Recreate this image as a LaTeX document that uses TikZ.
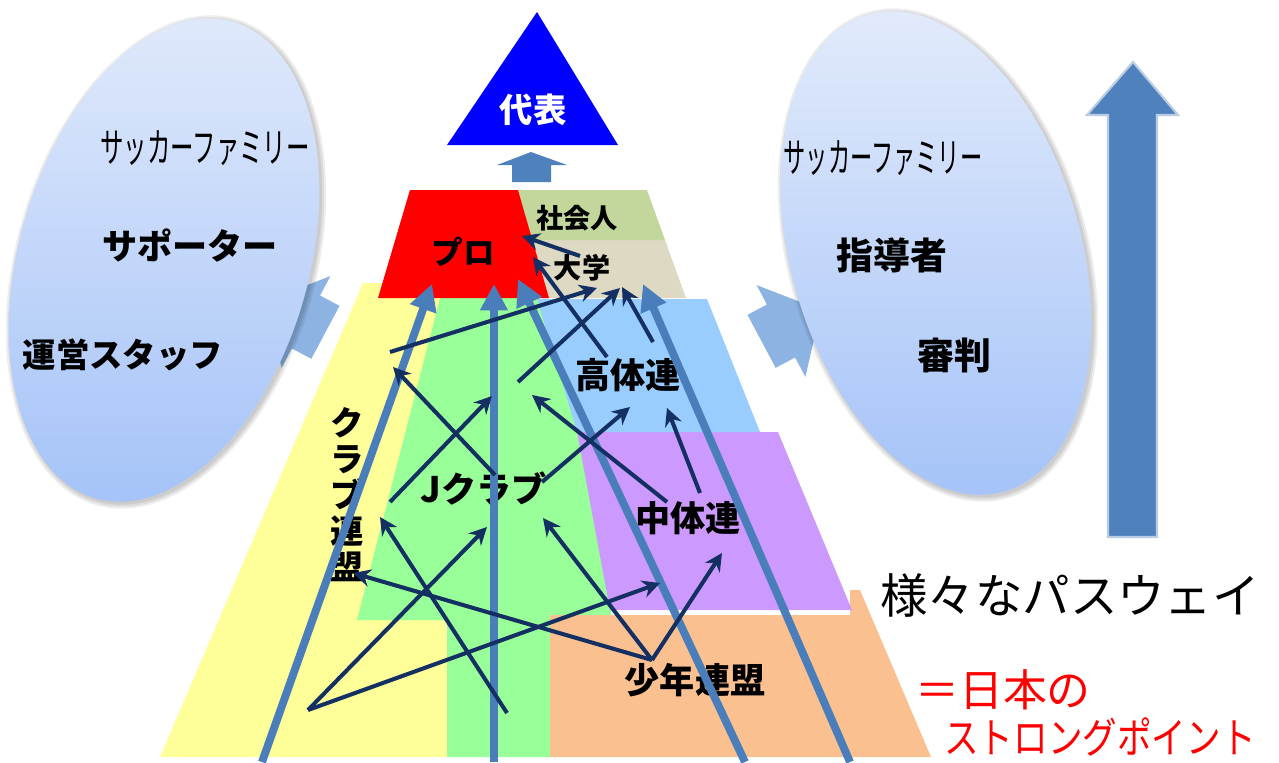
\documentclass[tikz,border=0pt]{standalone}
\usepackage{fontspec}
\newfontfamily\jp{Noto Sans CJK JP}
\usetikzlibrary{arrows.meta}
\definecolor{navy}{HTML}{142F62}
\definecolor{steel}{HTML}{4A7EBB}
\definecolor{ylw}{HTML}{FFFF99}
\definecolor{grn}{HTML}{99FF99}
\definecolor{org}{HTML}{FAC090}
\definecolor{pur}{HTML}{CC99FF}
\definecolor{lblue}{HTML}{99CCFF}
\definecolor{khaki}{HTML}{C3D69B}
\definecolor{beige}{HTML}{DDD9C3}
\definecolor{sidearr}{HTML}{8DB3E2}
\definecolor{ellTop}{HTML}{E1EAFB}
\definecolor{ellBot}{HTML}{A3C2F8}
\definecolor{bigarr}{HTML}{4F81BD}
\definecolor{bigarrb}{HTML}{B8CCE4}
\definecolor{topblue}{HTML}{0000FF}
\begin{document}
\begin{tikzpicture}[x=0.02cm,y=-0.02cm,
  lab/.style={font=\jp\bfseries, inner sep=0pt, text=black},
  thinlab/.style={font=\jp, inner sep=0pt, text=black},
  pathline/.style={draw=steel, line width=4.5pt, -{Triangle[length=15pt,width=15pt]}},
  flow/.style={draw=navy, line width=2.3pt, -{Stealth[length=10pt,width=10pt]}},
  sidearrow/.style={fill=sidearr},
  ell/.style={top color=ellTop, bottom color=ellBot},
  ellshadow/.style={fill=black, opacity=0.07}]
\useasboundingbox (0,0) rectangle (1279,762);

% side arrows (behind the ellipses)
\fill[sidearrow, shift={(306,322)}, rotate=152] (-22,-30) -- (0,-30) -- (0,-52) -- (45,0) -- (0,52) -- (0,30) -- (-22,30) -- cycle;
\fill[sidearrow, shift={(781,331)}, rotate=28] (-22,-30) -- (0,-30) -- (0,-52) -- (45,0) -- (0,52) -- (0,30) -- (-22,30) -- cycle;

% ellipses with soft shadows
\foreach \r in {150,148,146}{
  \fill[ellshadow, shift={(166,262)}, rotate=-16] (0,0) ellipse [x radius=\r, y radius=\r+103];
  \fill[ellshadow, shift={(938,255)}, rotate=16] (0,0) ellipse [x radius=\r, y radius=\r+103];
}
\shade[ell, shift={(164,260)}, rotate=-16] (0,0) ellipse [x radius=145, y radius=248];
\shade[ell, shift={(936,253)}, rotate=16] (0,0) ellipse [x radius=145, y radius=248];

% pyramid regions
\fill[ylw] (363,283) -- (446,283) -- (447,757) -- (160,757) -- cycle;
\fill[grn] (440,298) -- (540,298) -- (580,432) -- (612,618) -- (550,618) -- (550,757) -- (447,757) -- (447,620) -- (357,620) -- cycle;
\fill[org] (550,615) -- (850,615) -- (850,590) -- (860,590) -- (931,757) -- (550,757) -- cycle;
\fill[pur] (577,432) -- (778,432) -- (852,610) -- (610,610) -- cycle;
\fill[lblue] (537,299) -- (707,299) -- (760,432) -- (577,432) -- cycle;
\fill[beige] (532,240) -- (665,240) -- (686,298) -- (549,298) -- cycle;
\fill[khaki] (518,190) -- (647,190) -- (665,240) -- (532,240) -- cycle;
\fill[red] (410,190) -- (518,190) -- (549,298) -- (378,298) -- cycle;

% top triangle and small block arrow
\fill[topblue] (537,12) -- (618,145) -- (447,145) -- cycle;
\fill[bigarr] (512,182) -- (512,165) -- (497,165) -- (531,152) -- (567,165) -- (551,165) -- (551,182) -- cycle;

% big right arrow
\filldraw[fill=bigarr, draw=bigarrb, line width=1.2pt] (1108,537) -- (1108,115) -- (1087,115) -- (1133,62) -- (1178,115) -- (1157,115) -- (1157,537) -- cycle;

% labels
\node[lab, text=white, font=\jp\bfseries\fontsize{19pt}{19pt}\selectfont] (daihyo) at (533,110) {代表};
\node[lab, font=\jp\bfseries\fontsize{18pt}{18pt}\selectfont] (pro) at (463,252) {プロ};
\node[lab, font=\jp\bfseries\fontsize{15.5pt}{16pt}\selectfont] (shakai) at (577,218) {社会人};
\node[lab, font=\jp\bfseries\fontsize{16pt}{16pt}\selectfont] (daigaku) at (582,268) {大学};
\node[lab, font=\jp\bfseries\fontsize{20pt}{20pt}\selectfont] (kotai) at (628,375) {高体連};
\node[lab, font=\jp\bfseries\fontsize{20pt}{20pt}\selectfont] (chutai) at (688,518) {中体連};
\node[lab, font=\jp\bfseries\fontsize{20pt}{20pt}\selectfont] (shonen) at (695,680) {少年連盟};
\node[lab, font=\jp\bfseries\fontsize{20pt}{20pt}\selectfont] (jclub) at (484,488) {Jクラブ};
\node[lab, align=center, font=\jp\bfseries\fontsize{19pt}{20.5pt}\selectfont] (clubrenmei) at (347,495) {ク\\ラ\\ブ\\連\\盟};

\node[thinlab, xscale=0.58, font=\jp\fontsize{23pt}{23pt}\selectfont] (famL) at (205,148) {サッカーファミリー};
\node[lab, font=\jp\bfseries\fontsize{20pt}{20pt}\selectfont] (supporter) at (190,245) {サポーター};
\node[lab, font=\jp\bfseries\fontsize{19pt}{19pt}\selectfont] (staff) at (123,355) {運営スタッフ};
\node[thinlab, xscale=0.55, font=\jp\fontsize{23pt}{23pt}\selectfont] (famR) at (883,158) {サッカーファミリー};
\node[lab, font=\jp\bfseries\fontsize{21pt}{21pt}\selectfont] (shidou) at (892,255) {指導者};
\node[lab, font=\jp\bfseries\fontsize{21pt}{21pt}\selectfont] (shinpan) at (954,355) {審判};

\node[thinlab, font=\jp\fontsize{27pt}{27pt}\selectfont] (pathway) at (1070,595) {様々なパスウェイ};
\node[thinlab, text=red, font=\jp\fontsize{25pt}{25pt}\selectfont] (nihon) at (1003,690) {＝日本の};
\node[thinlab, text=red, xscale=0.82, font=\jp\fontsize{24pt}{24pt}\selectfont] (strong) at (1100,737) {ストロングポイント};

% coordinates for the long pathways
\coordinate (p1s) at (262,762); \coordinate (p1e) at (432,284);
\coordinate (p2s) at (494,762); \coordinate (p2e) at (494,284);
\coordinate (p3s) at (745,762); \coordinate (p3e) at (518,279);
\coordinate (p4s) at (850,762); \coordinate (p4e) at (643,284);
\draw[pathline] (p1s) -- (p1e);
\draw[pathline] (p2s) -- (p2e);
\draw[pathline] (p3s) -- (p3e);
\draw[pathline] (p4s) -- (p4e);

% coordinates for the transfer arrows
\coordinate (yTop) at (390,352);
\coordinate (yBot) at (308,710);
\coordinate (shTop) at (652,660);
\coordinate (gBot) at (507,713);
\coordinate (gMidL) at (390,502);
\coordinate (gMidC) at (495,475);
\coordinate (gMidR) at (542,482);
\coordinate (cuL) at (667,502);
\coordinate (cuR) at (700,493);
\coordinate (gUp) at (518,382);
\coordinate (daiS) at (580,256);
\coordinate (koL) at (607,357);
\coordinate (koR) at (653,342);
\coordinate (tDai1) at (597,288);
\coordinate (tDai2) at (620,288);
\coordinate (tDai3) at (622,287);
\coordinate (tGr1) at (487,527);
\coordinate (tCu1) at (660,583);
\coordinate (tCu2) at (722,553);
\coordinate (tGr2) at (543,518);
\coordinate (tCl) at (353,573);
\coordinate (tYl1) at (380,517);
\coordinate (tGr3) at (492,396);
\coordinate (tYl2) at (393,367);
\coordinate (tKo1) at (630,407);
\coordinate (tGr4) at (532,395);
\coordinate (tKo2) at (667,408);
\coordinate (tPro1) at (522,236);
\coordinate (tPro2) at (533,257);

\draw[flow] (yTop) -- (tDai1);
\draw[flow] (yBot) -- (tGr1);
\draw[flow] (yBot) -- (tCu1);
\draw[flow] (shTop) -- (tCu2);
\draw[flow] (shTop) -- (tGr2);
\draw[flow] (shTop) -- (tCl);
\draw[flow] (gBot) -- (tYl1);
\draw[flow] (gMidL) -- (tGr3);
\draw[flow] (gMidC) -- (tYl2);
\draw[flow] (gMidR) -- (tKo1);
\draw[flow] (cuL) -- (tGr4);
\draw[flow] (cuR) -- (tKo2);
\draw[flow] (gUp) -- (tDai2);
\draw[flow] (daiS) -- (tPro1);
\draw[flow] (koL) -- (tPro2);
\draw[flow] (koR) -- (tDai3);
\end{tikzpicture}
\end{document}
